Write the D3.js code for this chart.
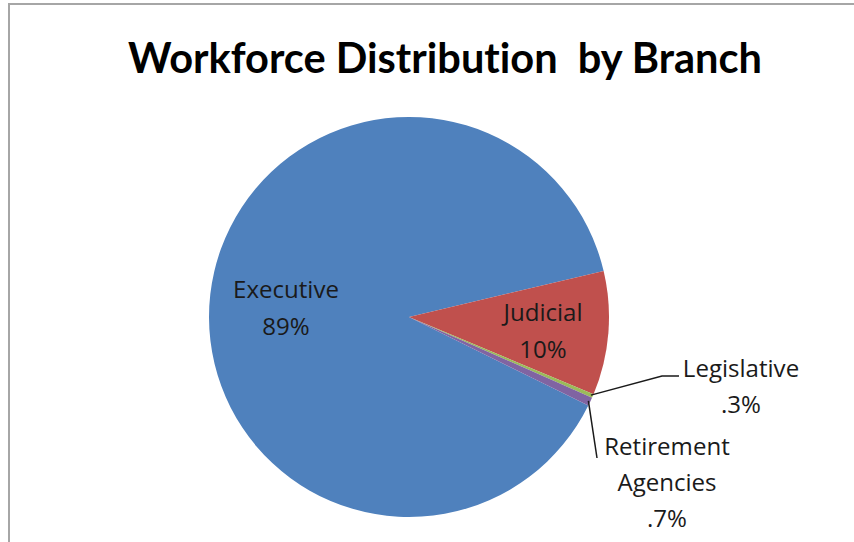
<!DOCTYPE html>
<html><head><meta charset="utf-8">
<script src="https://cdn.jsdelivr.net/npm/d3@7"></script>
<style>html,body{margin:0;padding:0;background:#fff}svg{display:block}text{font-variant-ligatures:none}</style>
</head><body>
<script>
const categories = ["Executive", "Judicial", "Legislative", "Retirement Agencies"];
const values = [89, 10, 0.3, 0.7];
const valueLabels = ["89%", "10%", ".3%", ".7%"];
const colors = ["#4F81BD", "#C0504D", "#9BBB59", "#8064A2"];
const title = "Workforce Distribution  by Branch";

const W = 854, H = 542;
const svg = d3.select("body").append("svg").attr("width", W).attr("height", H);
svg.append("rect").attr("x", 9).attr("y", 4).attr("width", W + 20).attr("height", H + 20)
  .attr("fill", "#fff").attr("stroke", "#a6a6a6").attr("stroke-width", 2);

const font = "Lato, 'Open Sans', sans-serif";
const t = svg.append("text").attr("x", 445).attr("y", 73).attr("text-anchor", "middle")
  .attr("font-family", font).attr("font-weight", "bold").attr("font-size", 36).attr("fill", "#000")
  .style("white-space", "pre").text(title);
const tw = t.node().getComputedTextLength();
t.attr("font-size", 36 * 634 / tw);

const cx = 409, cy = 317, r = 200;
const start = 116.3 * Math.PI / 180;
const pie = d3.pie().sort(null).value(d => d).startAngle(start).endAngle(start + 2 * Math.PI);
const arcs = pie(values);
const arc = d3.arc().innerRadius(0).outerRadius(r);
const g = svg.append("g").attr("transform", `translate(${cx},${cy})`);
g.selectAll("path").data(arcs).join("path").attr("d", arc).attr("fill", (d, i) => colors[i]);

const lfont = "'Open Sans', sans-serif";
const lab = svg.append("g").attr("font-family", lfont).attr("font-size", 20).attr("fill", "#1a1a1a").attr("text-anchor", "middle");
const probe = lab.append("text").text(categories[0]);
const fs = 20 * 106 / probe.node().getComputedTextLength();
probe.remove();
lab.attr("font-size", fs);
function label(lines, x, y, lh) {
  const tx = lab.append("text").attr("x", x).attr("y", y);
  lines.forEach((l, k) => tx.append("tspan").attr("x", x).attr("dy", k ? lh : 0).text(l));
}
label([categories[0], valueLabels[0]], 286, 298, 37);
label([categories[1], valueLabels[1]], 543, 321, 37);
label([categories[2], valueLabels[2]], 741, 377, 36);
label(["Retirement", "Agencies", valueLabels[3]], 667, 455, 36);

// leader lines
const edge = d3.arc().innerRadius(r - 2).outerRadius(r - 2);
const pLeg = edge.centroid(arcs[2]);
const pRet = edge.centroid(arcs[3]);
const line = svg.append("g").attr("fill", "none").attr("stroke", "#1a1a1a").attr("stroke-width", 1.5);
line.append("polyline").attr("points", `${cx + pLeg[0]},${cy + pLeg[1]} 662,376 679,376`);
line.append("polyline").attr("points", `${cx + pRet[0]},${cy + pRet[1]} 597,458`);
</script>
</body></html>
